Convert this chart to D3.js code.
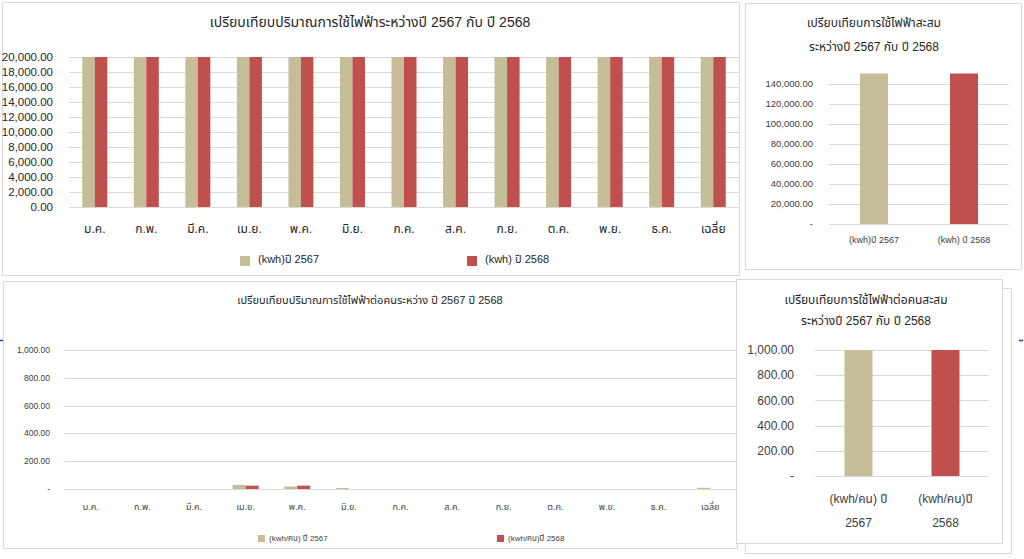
<!DOCTYPE html>
<html><head><meta charset="utf-8">
<script src="https://cdn.jsdelivr.net/npm/d3@7"></script>
<style>
body{margin:0;background:#fff;}
svg{font-family:"Liberation Sans","Noto Sans Thai","Noto Sans",sans-serif;}
</style></head>
<body>
<svg id="c" width="1024" height="559"></svg>
<script>
const months = ["ม.ค.","ก.พ.","มี.ค.","เม.ย.","พ.ค.","มิ.ย.","ก.ค.","ส.ค.","ก.ย.","ต.ค.","พ.ย.","ธ.ค.","เฉลี่ย"];
const kwh2567 = [20000,20000,20000,20000,20000,20000,20000,20000,20000,20000,20000,20000,20000];
const kwh2568 = [20000,20000,20000,20000,20000,20000,20000,20000,20000,20000,20000,20000,20000];
const perPerson2567 = [0,0,0,30,18,7,0,0,0,0,0,0,9];
const perPerson2568 = [0,0,0,24,24,0,0,0,0,0,0,0,0];
const cumLabels = ["(kwh)ปี 2567","(kwh) ปี 2568"];
const cumKwh = [150000,150000];
const cumPerLabels = [["(kwh/คน) ปี","2567"],["(kwh/คน)ปี","2568"]];
const cumPer = [1000,1000];
const seriesNames1 = ["(kwh)ปี 2567","(kwh) ปี 2568"];
const seriesNames3 = ["(kwh/คน) ปี 2567","(kwh/คน)ปี 2568"];
const ticks1 = [0,2000,4000,6000,8000,10000,12000,14000,16000,18000,20000];
const ticks2 = [0,20000,40000,60000,80000,100000,120000,140000];
const ticks3 = [0,200,400,600,800,1000];

const colors = ["#C4BD97","#C0504D"];
const grid = "#D9D9D9";
const svg = d3.select("#c");
const fmt = v => v===0 ? "0.00" : d3.format(",.2f")(v);
const fmtDash = v => v===0 ? "-" : d3.format(",.2f")(v);

function frame(x,y,w,h){
  svg.append("rect").attr("x",x+0.5).attr("y",y+0.5).attr("width",w).attr("height",h)
    .attr("fill","#fff").attr("stroke",grid).attr("stroke-width",1);
}

// frames
frame(2,2,737,273);
frame(745,3,276,266);
frame(3,281,734,267);
frame(745,288,266,265);
frame(736,279,266,264);

// blue page-break marks
svg.append("line").attr("x1",0).attr("x2",3).attr("y1",340.5).attr("y2",340.5).attr("stroke","#2233cc").attr("stroke-width",1.5);
svg.append("line").attr("x1",1019).attr("x2",1023).attr("y1",340.5).attr("y2",340.5).attr("stroke","#2233cc").attr("stroke-width",1.5);

function groupedChart(o){
  const g = svg.append("g");
  const x = d3.scaleBand().domain(o.cats).range([o.x0,o.x1]);
  const y = d3.scaleLinear().domain([0,o.ymax]).range([o.y0,o.y1]);
  g.selectAll("line.grid").data(o.ticks).join("line")
    .attr("x1",o.x0).attr("x2",o.x1)
    .attr("y1",d=>Math.round(y(d))+0.5).attr("y2",d=>Math.round(y(d))+0.5)
    .attr("stroke",grid).attr("stroke-width",1);
  g.selectAll("text.yl").data(o.ticks).join("text")
    .attr("x",o.ylx).attr("y",d=>y(d)).attr("dy","0.35em")
    .attr("text-anchor","end").attr("font-size",o.yfs).attr("fill",o.ycol)
    .text(o.yfmt);
  const bw = o.bw;
  o.series.forEach((s,si)=>{
    g.selectAll("rect.s"+si).data(s).join("rect")
      .attr("x",(d,i)=>x(o.cats[i])+x.bandwidth()/2 + (si===0?-bw:0))
      .attr("y",d=>y(d)).attr("width",bw).attr("height",d=>y(0)-y(d))
      .attr("fill",colors[si]);
  });
  g.selectAll("text.xl").data(o.cats).join("text")
    .attr("x",d=>x(d)+x.bandwidth()/2).attr("y",o.xly)
    .attr("text-anchor","middle").attr("font-size",o.xfs).attr("fill",o.xcol)
    .text(d=>d);
  return {x,y};
}

// Panel 1
svg.append("text").attr("x",370).attr("y",27).attr("text-anchor","middle")
  .attr("font-size",14).attr("fill","#262626").text("เปรียบเทียบปริมาณการใช้ไฟฟ้าระหว่างปี 2567 กับ ปี 2568");
groupedChart({cats:months,series:[kwh2567,kwh2568],x0:69,x1:739,y0:207,y1:57,ymax:20000,
  ticks:ticks1,ylx:53,yfs:11.5,ycol:"#262626",yfmt:fmt,bw:12.5,xly:233,xfs:12,xcol:"#262626"});
[[240,seriesNames1[0]],[467,seriesNames1[1]]].forEach((l,i)=>{
  svg.append("rect").attr("x",l[0]).attr("y",256).attr("width",10).attr("height",10).attr("fill",colors[i]);
  svg.append("text").attr("x",l[0]+18).attr("y",263).attr("font-size",11).attr("fill","#262626").text(l[1]);
});

// Panel 3
svg.append("text").attr("x",370).attr("y",304).attr("text-anchor","middle")
  .attr("font-size",11).attr("fill","#262626").text("เปรียบเทียบปริมาณการใช้ไฟฟ้าต่อคนระหว่าง ปี 2567 ปี 2568");
groupedChart({cats:months,series:[perPerson2567,perPerson2568],x0:65,x1:736,y0:489,y1:350,ymax:1000,
  ticks:ticks3,ylx:50,yfs:8.5,ycol:"#404040",yfmt:fmtDash,bw:13,xly:510,xfs:9,xcol:"#404040"});
[[258,seriesNames3[0]],[497,seriesNames3[1]]].forEach((l,i)=>{
  svg.append("rect").attr("x",l[0]).attr("y",535).attr("width",7).attr("height",7).attr("fill",colors[i]);
  svg.append("text").attr("x",l[0]+11).attr("y",541).attr("font-size",8).attr("fill","#404040").text(l[1]);
});

function simpleChart(o){
  const g = svg.append("g");
  const x = d3.scaleBand().domain(o.cats.map((c,i)=>i)).range([o.x0,o.x1]);
  const y = d3.scaleLinear().domain([0,o.ymax]).range([o.y0,o.y1]);
  g.selectAll("line").data(o.ticks).join("line")
    .attr("x1",o.x0).attr("x2",o.x1)
    .attr("y1",d=>Math.round(y(d))+0.5).attr("y2",d=>Math.round(y(d))+0.5)
    .attr("stroke",grid);
  g.selectAll("text.yl").data(o.ticks).join("text")
    .attr("x",o.ylx).attr("y",d=>y(d)).attr("dy","0.35em")
    .attr("text-anchor","end").attr("font-size",o.yfs).attr("fill",o.ycol).text(fmtDash);
  g.selectAll("rect").data(o.vals).join("rect")
    .attr("x",(d,i)=>x(i)+x.bandwidth()/2-o.bw/2).attr("width",o.bw)
    .attr("y",d=>y(d)).attr("height",d=>y(0)-y(d)).attr("fill",(d,i)=>colors[i]);
  o.cats.forEach((c,i)=>{
    const lines = Array.isArray(c)?c:[c];
    lines.forEach((t,j)=>{
      g.append("text").attr("x",x(i)+x.bandwidth()/2).attr("y",o.xly+j*o.xlh)
        .attr("text-anchor","middle").attr("font-size",o.xfs).attr("fill",o.xcol).text(t);
    });
  });
}

// Panel 2
svg.append("text").attr("x",874).attr("y",27).attr("text-anchor","middle").attr("font-size",12).attr("fill","#262626").text("เปรียบเทียบการใช้ไฟฟ้าสะสม");
svg.append("text").attr("x",874).attr("y",51).attr("text-anchor","middle").attr("font-size",12).attr("fill","#262626").text("ระหว่างปี 2567 กับ ปี 2568");
simpleChart({cats:cumLabels,vals:cumKwh,x0:829,x1:1009,y0:224,y1:74,ymax:149500,
  ticks:ticks2,ylx:813,yfs:9.5,ycol:"#404040",bw:28,xly:243,xlh:0,xfs:9,xcol:"#404040"});

// Panel 4
svg.append("text").attr("x",866).attr("y",304).attr("text-anchor","middle").attr("font-size",12).attr("fill","#262626").text("เปรียบเทียบการใช้ไฟฟ้าต่อคนสะสม");
svg.append("text").attr("x",866).attr("y",325).attr("text-anchor","middle").attr("font-size",12).attr("fill","#262626").text("ระหว่างปี 2567 กับ ปี 2568");
simpleChart({cats:cumPerLabels,vals:cumPer,x0:815,x1:989,y0:476,y1:350,ymax:1000,
  ticks:ticks3,ylx:794,yfs:12,ycol:"#404040",bw:28,xly:503,xlh:24,xfs:12,xcol:"#404040"});
</script>
</body></html>
